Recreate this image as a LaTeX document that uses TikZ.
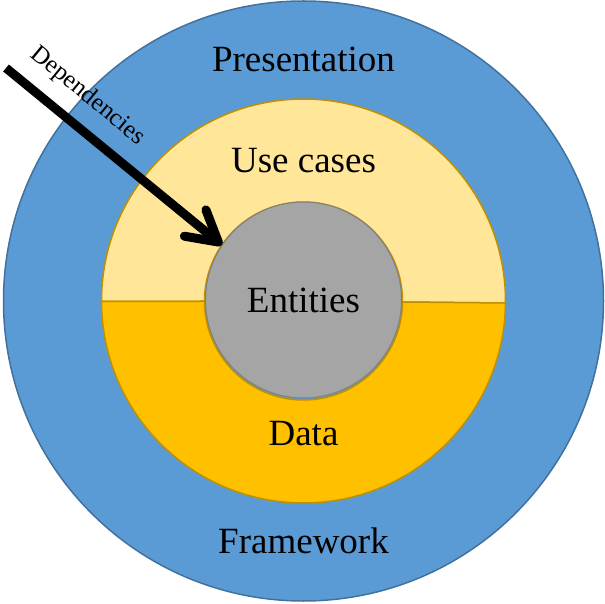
\documentclass[tikz,border=0pt]{standalone}
\usepackage{fontspec}
\setmainfont{Liberation Serif}
\usepackage{xcolor}
\definecolor{layerOuter}{HTML}{5B9BD5}
\definecolor{layerOuterEdge}{HTML}{41719C}
\definecolor{layerUse}{HTML}{FFE699}
\definecolor{layerData}{HTML}{FFC000}
\definecolor{layerRingEdge}{HTML}{BF9000}
\definecolor{layerCore}{HTML}{A5A5A5}
\definecolor{layerCoreEdge}{HTML}{808080}
\usetikzlibrary{arrows.meta,calc}

\begin{document}
\begin{tikzpicture}[x=1pt, y=1pt,
    layerlabel/.style={font=\fontsize{37}{44}\selectfont, anchor=base},
    ringhalf/.style={draw=layerRingEdge, line width=1.5pt}]
  \useasboundingbox (0,0) rectangle (605,603);
  \coordinate (C) at (303.5,302);
  \node[circle, draw=layerOuterEdge, fill=layerOuter, line width=1.5pt, minimum size=600pt, inner sep=0pt] (outer) at (C) {};
  % upper and lower halves of the ring
  \filldraw[ringhalf, fill=layerUse] ($(C)+(180.14:202)$) arc[start angle=180.14, end angle=-0.57, radius=202]
    -- ($(C)+(-0.57:99)$) arc[start angle=-0.57, end angle=180.14, radius=99] -- cycle;
  \filldraw[ringhalf, fill=layerData] ($(C)+(180.14:202)$) arc[start angle=180.14, end angle=359.43, radius=202]
    -- ($(C)+(359.43:99)$) arc[start angle=359.43, end angle=180.14, radius=99] -- cycle;
  \node[circle, draw=layerCoreEdge, fill=layerCore, line width=1pt, minimum size=196pt, inner sep=0pt, font=\fontsize{37}{44}\selectfont] (ent) at (303.5,303) {Entities};
  \node[layerlabel] (pres) at (303.5,531) {Presentation};
  \node[layerlabel] (use) at (303.5,430) {Use cases};
  \node[layerlabel] (data) at (303.5,158) {Data};
  \node[layerlabel] (frame) at (303.5,50) {Framework};
  \coordinate (depstart) at (6,535);
  \draw[line width=9pt, -{Straight Barb[length=30pt, width=34pt, round]}] (depstart) -- (ent.146)
    node[sloped, pos=0.29, above=14pt, inner sep=0pt, font=\fontsize{25}{30}\selectfont] (dep) {Dependencies};
\end{tikzpicture}
\end{document}
